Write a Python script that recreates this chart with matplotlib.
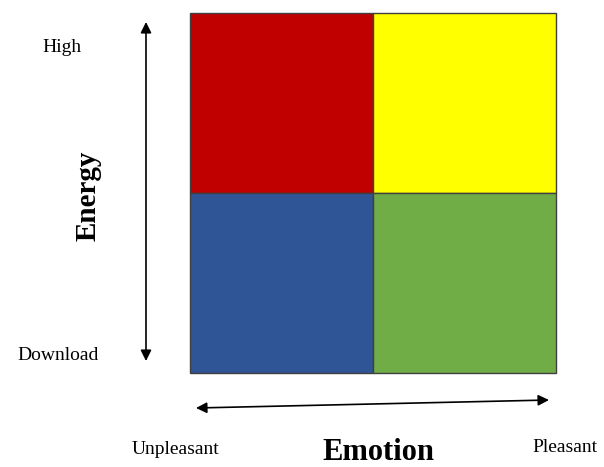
import matplotlib
matplotlib.use("Agg")
import matplotlib.pyplot as plt
from matplotlib.patches import Rectangle

# quadrant data: (column, row) -> colour, row 0 = top
quad_cols = [0, 1, 0, 1]
quad_rows = [0, 0, 1, 1]
quad_colors = ["#C00000", "#FFFF00", "#2F5597", "#70AD47"]

y_labels = ["High", "Download"]
x_labels = ["Unpleasant", "Pleasant"]
y_title = "Energy"
x_title = "Emotion"

plt.rcParams["font.family"] = ["Liberation Serif", "DejaVu Serif"]

fig = plt.figure(figsize=(6.04, 4.67), dpi=100)
ax = fig.add_axes([0, 0, 1, 1])
ax.set_xlim(0, 604)
ax.set_ylim(467, 0)
ax.axis("off")

# grid of squares
x0, y0 = 190, 13
w, h = 183, 180
for c, r, col in zip(quad_cols, quad_rows, quad_colors):
    ax.add_patch(Rectangle((x0 + c * w, y0 + r * h), w, h,
                           facecolor=col, edgecolor="#404040", linewidth=1.0))

# arrows
ax.annotate("", xy=(146, 22), xytext=(146, 361),
            arrowprops=dict(arrowstyle="<|-|>", color="black", lw=1.2,
                            mutation_scale=16, shrinkA=0, shrinkB=0))
ax.annotate("", xy=(196, 408), xytext=(549, 400),
            arrowprops=dict(arrowstyle="<|-|>", color="black", lw=1.2,
                            mutation_scale=16, shrinkA=0, shrinkB=0))

# labels
ax.text(62, 48, y_labels[0], fontsize=14, ha="center", va="center")
ax.text(58, 356, y_labels[1], fontsize=14, ha="center", va="center")
ax.text(88, 196, y_title, fontsize=21, fontweight="bold", rotation=90,
        ha="center", va="center")
ax.text(176, 450, x_labels[0], fontsize=14, ha="center", va="center")
ax.text(565, 448, x_labels[1], fontsize=14, ha="center", va="center")
ax.text(378, 453, x_title, fontsize=22, fontweight="bold",
        ha="center", va="center")

fig.savefig("out.png", dpi=100)
